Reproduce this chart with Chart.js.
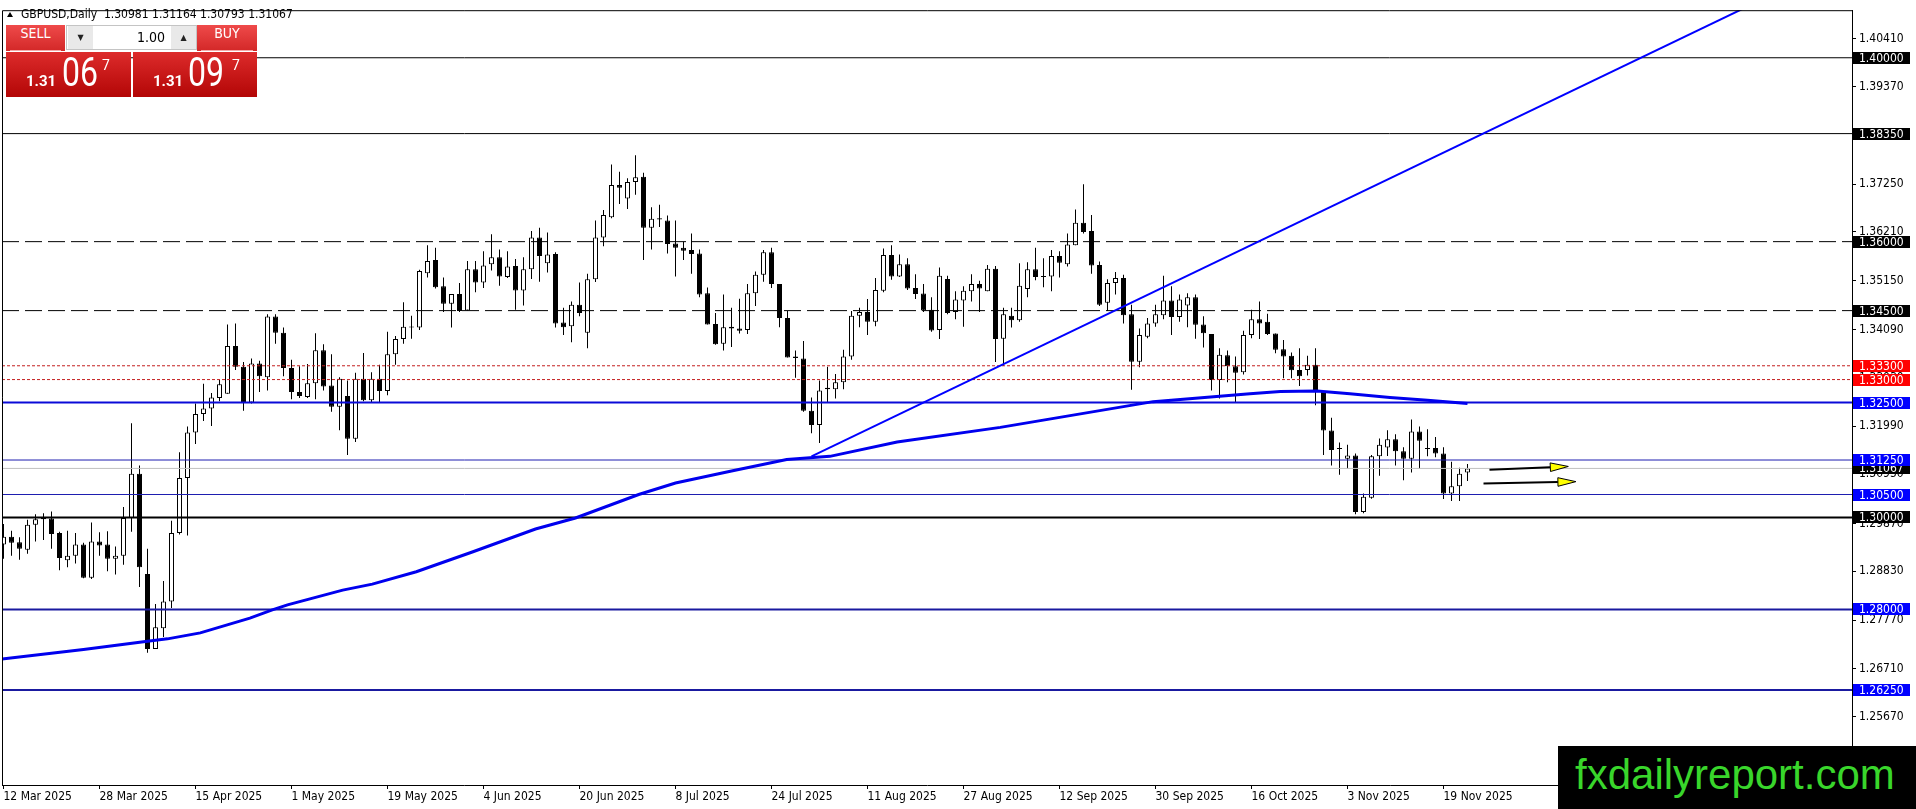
<!DOCTYPE html>
<html>
<head>
<meta charset="utf-8">
<title>GBPUSD Daily</title>
<script src="https://cdn.jsdelivr.net/npm/chart.js@4.4.1/dist/chart.umd.min.js"></script>
<style>
html, body { margin: 0; padding: 0; background: #fff; overflow: hidden; }
#wrap { position: relative; width: 1916px; height: 809px; }
#grafico { position: absolute; left: 0; top: 0; }
#head { position: absolute; left: 7px; top: 7px; line-height: 12px; font: 12px "DejaVu Sans Condensed", "DejaVu Sans", sans-serif; color: #000; white-space: pre; }
#head .tri { display: inline-block; width: 0; height: 0; border-left: 3.5px solid transparent; border-right: 3.5px solid transparent; border-bottom: 5px solid #000; margin-right: 8px; vertical-align: 1px; }
.btn { position: absolute; top: 25px; height: 26px; line-height: 26px; text-align: center; color: #fff; background: linear-gradient(#ef4a4a, #d32828); font: 14px "DejaVu Sans Condensed", "DejaVu Sans", sans-serif; }
.btn::after { content: ''; position: absolute; left: 4px; right: 4px; bottom: 0; height: 1px; background: #f4a8a8; }
#sell { left: 6px; width: 59px; }
#buy { left: 197px; width: 60px; }
#lot { position: absolute; left: 66px; top: 25px; width: 129px; height: 23px; border: 1px solid #c4c4c4; background: #fff; }
#lot .arr { position: absolute; top: 0; width: 25px; height: 23px; background: #e9e9e9; font: 8px "DejaVu Sans", sans-serif; line-height: 23px; text-align: center; color: #222; }
#lot .dn { left: 1px; }
#lot .up { left: 104px; }
#lot .val { position: absolute; left: 27px; width: 71px; text-align: right; font: 14px "DejaVu Sans Condensed", "DejaVu Sans", sans-serif; line-height: 23px; color: #000; }
.px { position: absolute; top: 52px; height: 45px; background: linear-gradient(#dd2b2b, #b30606); color: #fff; font-family: Roboto, sans-serif; }
#bid { left: 6px; width: 125px; }
#ask { left: 133px; width: 124px; }
.px span { position: absolute; line-height: 1; white-space: pre; }
.px .s { top: 22px; font-size: 15px; font-weight: bold; }
.px .b { top: 1px; font-size: 40px; transform: scaleX(0.8); transform-origin: left top; }
.px .p { top: 6px; font-size: 14px; }
#logo { position: absolute; left: 1558px; top: 746px; width: 358px; height: 63px; background: #000; }
#logo span { position: absolute; left: 17px; top: 5px; line-height: 1; font: 42px "Liberation Sans", Arial, sans-serif; color: #39d62b; white-space: pre; }
</style>
</head>
<body>
<div id="wrap">
  <canvas id="grafico" width="1916" height="809"></canvas>
  <div id="head"><span class="tri"></span><span id="headText"></span></div>
  <div class="btn" id="sell">SELL</div>
  <div id="lot"><span class="arr dn">&#9660;</span><span class="val">1.00</span><span class="arr up">&#9650;</span></div>
  <div class="btn" id="buy">BUY</div>
  <div class="px" id="bid"><span class="s" style="left:20px">1.31</span><span class="b" style="left:56px">06</span><span class="p" style="left:96px">7</span></div>
  <div class="px" id="ask"><span class="s" style="left:20px">1.31</span><span class="b" style="left:55px">09</span><span class="p" style="left:99px">7</span></div>
  <div id="logo"><span>fxdailyreport.com</span></div>
</div>
<script>
// daily candles, bar 0 = 12 Mar 2025
const open = [
  1.2941,1.2958,1.2946,1.2930,1.2984,1.2996,1.2998,1.2966,1.2907,1.2917,
  1.2941,1.2869,1.2948,1.2941,1.2910,1.2917,1.2999,1.3095,1.2877,1.2714,
  1.2759,1.2817,1.2966,1.3086,1.3185,1.3225,1.3237,1.3260,1.3269,1.3373,
  1.3328,1.3250,1.3335,1.3305,1.3437,1.3402,1.3325,1.3273,1.3262,1.3292,
  1.3364,1.3287,1.3241,1.3264,1.3171,1.3302,1.3255,1.3302,1.3275,1.3355,
  1.3388,1.3415,1.3413,1.3531,1.3560,1.3503,1.3465,1.3486,1.3450,1.3540,
  1.3511,1.3551,1.3566,1.3523,1.3547,1.3494,1.3540,1.3609,1.3553,1.3573,
  1.3424,1.3416,1.3463,1.3402,1.3518,1.3609,1.3653,1.3723,1.3694,1.3730,
  1.3741,1.3630,1.3651,1.3646,1.3596,1.3587,1.3582,1.3574,1.3488,1.3421,
  1.3378,1.3415,1.3411,1.3408,1.3488,1.3528,1.3577,1.3508,1.3434,1.3350,
  1.3346,1.3232,1.3201,1.3282,1.3279,1.3294,1.3350,1.3439,1.3447,1.3426,
  1.3493,1.3571,1.3524,1.3551,1.3499,1.3487,1.3452,1.3408,1.3519,1.3447,
  1.3472,1.3492,1.3508,1.3492,1.3541,1.3389,1.3439,1.3429,1.3497,1.3540,
  1.3524,1.3524,1.3569,1.3551,1.3592,1.3641,1.3623,1.3549,1.3467,1.3510,
  1.3521,1.3442,1.3339,1.3393,1.3422,1.3440,1.3472,1.3436,1.3461,1.3479,
  1.3420,1.3399,1.3299,1.3353,1.3329,1.3316,1.3397,1.3431,1.3426,1.3400,
  1.3366,1.3352,1.3321,1.3321,1.3332,1.3275,1.3189,1.3151,1.3128,1.3135,
  1.3012,1.3043,1.3133,1.3152,1.3170,1.3144,1.3128,1.3187,1.3151,1.3151,
  1.3139,1.3052,1.3068,1.30981
];
const high = [
  1.2986,1.2971,1.2957,1.2995,1.3007,1.3009,1.3013,1.2969,1.2971,1.2966,
  1.2945,1.2989,1.2968,1.2970,1.2937,1.3023,1.3205,1.3113,1.2932,1.2812,
  1.2862,1.2993,1.3142,1.3198,1.3248,1.3291,1.3271,1.3299,1.3420,1.3422,
  1.3338,1.3346,1.3341,1.3442,1.3442,1.3413,1.3343,1.3329,1.3334,1.3401,
  1.3377,1.3355,1.3305,1.3298,1.3315,1.3358,1.3316,1.3332,1.3404,1.3395,
  1.3468,1.3439,1.3539,1.3592,1.3587,1.3522,1.3486,1.3510,1.3558,1.3558,
  1.3579,1.3616,1.3583,1.3579,1.3562,1.3566,1.3623,1.3630,1.3620,1.3577,
  1.3456,1.3470,1.3511,1.3530,1.3646,1.3669,1.3768,1.3752,1.3738,1.3788,
  1.3750,1.3675,1.3680,1.3657,1.3646,1.3600,1.3618,1.3583,1.3500,1.3445,
  1.3485,1.3456,1.3476,1.3508,1.3535,1.3582,1.3587,1.3508,1.3449,1.3363,
  1.3384,1.3261,1.3298,1.3328,1.3312,1.3365,1.3449,1.3456,1.3475,1.3521,
  1.3585,1.3592,1.3572,1.3564,1.3529,1.3508,1.3479,1.3544,1.3526,1.3492,
  1.3503,1.3529,1.3515,1.3549,1.3547,1.3456,1.3456,1.3553,1.3555,1.3587,
  1.3564,1.3582,1.3579,1.3618,1.3670,1.3725,1.3658,1.3557,1.3518,1.3534,
  1.3528,1.3463,1.3411,1.3434,1.3463,1.3526,1.3503,1.3485,1.3488,1.3485,
  1.3438,1.3399,1.3368,1.3363,1.3350,1.3406,1.3452,1.3470,1.3443,1.3400,
  1.3386,1.3359,1.3368,1.3352,1.3368,1.3275,1.3217,1.3163,1.3158,1.3139,
  1.3052,1.3136,1.3172,1.3190,1.3181,1.3153,1.3213,1.3198,1.3192,1.3175,
  1.3153,1.3121,1.3108,1.31164
];
const low = [
  1.2910,1.2917,1.2908,1.2921,1.2948,1.2951,1.2932,1.2885,1.2892,1.2900,
  1.2868,1.2866,1.2917,1.2883,1.2876,1.2897,1.2969,1.2849,1.2706,1.2714,
  1.2740,1.2803,1.2963,1.2961,1.3160,1.3210,1.3199,1.3253,1.3269,1.3321,
  1.3232,1.3248,1.3273,1.3276,1.3378,1.3307,1.3257,1.3260,1.3260,1.3257,
  1.3276,1.3230,1.3190,1.3136,1.3164,1.3253,1.3251,1.3250,1.3266,1.3332,
  1.3378,1.3389,1.3408,1.3522,1.3498,1.3447,1.3413,1.3447,1.3450,1.3490,
  1.3499,1.3537,1.3504,1.3521,1.3452,1.3461,1.3519,1.3513,1.3533,1.3413,
  1.3397,1.3381,1.3438,1.3368,1.3512,1.3590,1.3651,1.3682,1.3671,1.3702,
  1.3560,1.3583,1.3632,1.3574,1.3524,1.3560,1.3530,1.3479,1.3420,1.3376,
  1.3363,1.3371,1.3400,1.3399,1.3460,1.3513,1.3499,1.3414,1.3348,1.3304,
  1.3230,1.3183,1.3162,1.3251,1.3259,1.3279,1.3343,1.3414,1.3397,1.3416,
  1.3490,1.3517,1.3523,1.3495,1.3475,1.3447,1.3404,1.3388,1.3442,1.3431,
  1.3415,1.3470,1.3447,1.3492,1.3338,1.3330,1.3413,1.3426,1.3479,1.3516,
  1.3501,1.3492,1.3522,1.3546,1.3592,1.3618,1.3530,1.3460,1.3449,1.3485,
  1.3422,1.3278,1.3327,1.3390,1.3415,1.3431,1.3397,1.3426,1.3414,1.3389,
  1.3370,1.3276,1.3259,1.3294,1.3251,1.3311,1.3390,1.3388,1.3397,1.3357,
  1.3303,1.3303,1.3286,1.3309,1.3244,1.3136,1.3113,1.3093,1.3106,1.3007,
  1.3009,1.3041,1.3091,1.3134,1.3113,1.3081,1.3098,1.3106,1.3133,1.3131,
  1.3040,1.3036,1.3036,1.30793
];
const close = [
  1.2958,1.2945,1.2932,1.2984,1.2996,1.2999,1.2964,1.2912,1.2917,1.2941,
  1.2869,1.2948,1.2939,1.2910,1.2917,1.2999,1.3095,1.2892,1.2714,1.2761,
  1.2817,1.2966,1.3086,1.3185,1.3225,1.3237,1.3261,1.3290,1.3373,1.3328,
  1.3251,1.3335,1.3307,1.3437,1.3402,1.3325,1.3273,1.3264,1.3292,1.3364,
  1.3285,1.3241,1.3302,1.3171,1.3302,1.3255,1.3302,1.3275,1.3355,1.3388,
  1.3415,1.3413,1.3536,1.3558,1.3501,1.3465,1.3486,1.3449,1.3540,1.3511,
  1.3548,1.3566,1.3524,1.3546,1.3494,1.3540,1.3609,1.3569,1.3572,1.3422,
  1.3414,1.3463,1.3445,1.3518,1.3609,1.3658,1.3723,1.3717,1.3730,1.3740,
  1.3630,1.3650,1.3648,1.3595,1.3587,1.3580,1.3573,1.3485,1.3420,1.3377,
  1.3414,1.3411,1.3406,1.3488,1.3528,1.3577,1.3508,1.3434,1.3348,1.3347,
  1.3232,1.3201,1.3276,1.3279,1.3294,1.3350,1.3439,1.3447,1.3426,1.3495,
  1.3571,1.3524,1.3551,1.3498,1.3486,1.3450,1.3407,1.3526,1.3445,1.3474,
  1.3493,1.3508,1.3498,1.3541,1.3388,1.3442,1.3429,1.3504,1.3540,1.3523,
  1.3523,1.3569,1.3554,1.3594,1.3641,1.3621,1.3548,1.3463,1.3510,1.3521,
  1.3440,1.3339,1.3397,1.3422,1.3442,1.3472,1.3436,1.3474,1.3479,1.3419,
  1.3401,1.3299,1.3354,1.3329,1.3315,1.3397,1.3431,1.3422,1.3399,1.3365,
  1.3350,1.3320,1.3307,1.3332,1.3275,1.3189,1.3147,1.3149,1.3135,1.3012,
  1.3045,1.3133,1.3158,1.3170,1.3144,1.3128,1.3187,1.3167,1.3149,1.3139,
  1.3052,1.3068,1.3095,1.31067
];

const dateLabels = ['12 Mar 2025','28 Mar 2025','15 Apr 2025','1 May 2025','19 May 2025','4 Jun 2025','20 Jun 2025','8 Jul 2025',
  '24 Jul 2025','11 Aug 2025','27 Aug 2025','12 Sep 2025','30 Sep 2025','16 Oct 2025','3 Nov 2025','19 Nov 2025'];
const dateLabelBars = [0,12,24,36,48,60,72,84,96,108,120,132,144,156,168,180];
const priceTicks = [1.40410,1.39370,1.38310,1.37250,1.36210,1.35150,1.34090,1.33030,1.31990,1.30950,1.29870,1.28830,1.27770,1.26710,1.25670];

// horizontal levels
const levels = [1.40000,1.38350,1.36000,1.34500,1.33300,1.33000,1.32500,1.31250,1.30500,1.30000,1.28000,1.26250];

// moving average (bar, price)
const maBar = [-0.19,10,18,20.5,24.6,30.8,33.6,35.5,42.4,46.1,51.6,58.6,66.5,71.5,79.4,84,91,97.9,103.3,111.7,124.6,143.7,155.8,159.6,164.2,168.3,173.3,178,183];
const maPrice = [1.2692,1.2713,1.2731,1.2736,1.2749,1.2781,1.2799,1.2810,1.2842,1.2855,1.2882,1.2925,1.2975,1.2999,1.3050,1.3075,1.3101,1.3126,1.3133,1.3164,1.3196,1.3252,1.3269,1.3274,1.3275,1.3269,1.3261,1.3255,1.3248];

// trend line
const trendBar = [101, 231.1];
const trendPrice = [1.3133, 1.4221];

// arrows
const arrowFromBar = [185.75, 185.0];
const arrowFromPrice = [1.3104, 1.3074];
const arrowToBar = [195.6, 196.55];
const arrowToPrice = [1.3111, 1.3078];

// styles for the levels
const levelLine = ['#000','#000','#000','#000','#c41e1e','#c41e1e','#0a0ad8','#1e1eb0','#1e1eb0','#000','#1a1aa0','#1a1aa0'];
const levelWidth = [1,1,1,1,1,1,2,1,1,2,2,2];
const levelDash = [[],[],[17,6],[17,6],[3,2],[3,2],[],[],[],[],[],[]];
const levelBox = ['#000','#000','#000','#000','#ff0000','#ff0000','#0000ff','#0000ff','#0000ff','#000','#0000ff','#0000ff'];

const X_MIN = -0.1875, X_MAX = 231.0625;
const Y_MIN = 1.241811, Y_MAX = 1.410345;
const AXIS_FONT = { family: '"DejaVu Sans Condensed", "DejaVu Sans", sans-serif', size: 12 };

document.addEventListener('DOMContentLoaded', function(){
    const n = close.length - 1;
    document.getElementById('headText').textContent =
        'GBPUSD,Daily  ' + [open[n], high[n], low[n], close[n]].map(v => v.toFixed(5)).join(' ');

    const idx = close.map((v, i) => i);
    const lastClose = close[n];

    const flat = (v) => [{x: X_MIN, y: v}, {x: X_MAX, y: v}];

    const levelSets = levels.map((v, k) => ({
        type: 'line',
        data: flat(v),
        borderColor: levelLine[k],
        borderWidth: levelWidth[k],
        borderDash: levelDash[k],
        pointRadius: 0,
        order: 3
    }));

    const frame = {
        id: 'frame',
        afterDraw(chart) {
            const {ctx, chartArea: a, scales: {x, y}} = chart;
            ctx.save();
            ctx.strokeStyle = '#000';
            ctx.lineWidth = 1;
            ctx.beginPath();
            ctx.moveTo(a.left + 0.5, a.bottom);
            ctx.lineTo(a.left + 0.5, a.top + 0.5);
            ctx.lineTo(a.right, a.top + 0.5);
            ctx.stroke();

            // arrows
            arrowFromBar.forEach((b, k) => {
                const x0 = x.getPixelForValue(b), y0 = y.getPixelForValue(arrowFromPrice[k]);
                const x1 = x.getPixelForValue(arrowToBar[k]), y1 = y.getPixelForValue(arrowToPrice[k]);
                const ang = Math.atan2(y1 - y0, x1 - x0);
                const hl = 18, hw = 4.3;
                const bx = x1 - hl * Math.cos(ang), by = y1 - hl * Math.sin(ang);
                ctx.strokeStyle = '#000';
                ctx.lineWidth = 2;
                ctx.beginPath();
                ctx.moveTo(x0, y0);
                ctx.lineTo(bx, by);
                ctx.stroke();
                ctx.beginPath();
                ctx.moveTo(x1, y1);
                ctx.lineTo(bx - hw * Math.sin(ang), by + hw * Math.cos(ang));
                ctx.lineTo(bx + hw * Math.sin(ang), by - hw * Math.cos(ang));
                ctx.closePath();
                ctx.fillStyle = '#ffff00';
                ctx.fill();
                ctx.lineWidth = 1;
                ctx.stroke();
            });

            // price boxes on the right axis
            ctx.font = '12px "DejaVu Sans Condensed", "DejaVu Sans", sans-serif';
            ctx.textBaseline = 'middle';
            ctx.textAlign = 'left';
            const box = (v, color) => {
                const py = Math.round(y.getPixelForValue(v));
                ctx.fillStyle = color;
                ctx.fillRect(a.right + 1, py - 6, 57, 12);
                ctx.fillStyle = '#fff';
                ctx.fillText(v.toFixed(5), a.right + 7, py + 0.5);
            };
            box(lastClose, '#000');
            levels.forEach((v, k) => box(v, levelBox[k]));
            ctx.restore();
        }
    };

    const ctx = document.getElementById('grafico').getContext('2d');
    new Chart(ctx, {
        type: 'bar',
        data: {
            datasets: [
                {
                    type: 'line',
                    label: 'Trend',
                    data: trendBar.map((b, i) => ({x: b, y: trendPrice[i]})),
                    borderColor: '#0000ff',
                    borderWidth: 2,
                    pointRadius: 0,
                    order: 1
                },
                {
                    type: 'line',
                    label: 'MA',
                    data: maBar.map((b, i) => ({x: b, y: maPrice[i]})),
                    borderColor: '#0000ee',
                    borderWidth: 3,
                    pointRadius: 0,
                    order: 2
                },
                ...levelSets,
                {
                    type: 'line',
                    label: 'Bid',
                    data: flat(lastClose),
                    borderColor: '#c0c0c0',
                    borderWidth: 1,
                    pointRadius: 0,
                    order: 4
                },
                {
                    label: 'Body',
                    data: idx.map(i => ({x: i, y: [open[i], close[i]]})),
                    backgroundColor: idx.map(i => close[i] >= open[i] ? '#ffffff' : '#000000'),
                    borderColor: '#000',
                    borderWidth: 1,
                    borderSkipped: false,
                    barThickness: 5,
                    minBarLength: 1,
                    inflateAmount: 0,
                    grouped: false,
                    order: 8
                },
                {
                    label: 'Wick',
                    data: idx.map(i => ({x: i, y: [low[i], high[i]]})),
                    backgroundColor: '#000',
                    borderWidth: 0,
                    barThickness: 1,
                    inflateAmount: 0,
                    grouped: false,
                    order: 9
                }
            ]
        },
        options: {
            responsive: false,
            devicePixelRatio: 1,
            animation: false,
            events: [],
            layout: { padding: { left: 2, top: 3, right: 0, bottom: 0 } },
            plugins: { legend: { display: false }, tooltip: { enabled: false } },
            scales: {
                x: {
                    type: 'linear',
                    min: X_MIN,
                    max: X_MAX,
                    offset: false,
                    afterBuildTicks: s => { s.ticks = dateLabelBars.map(v => ({value: v})); },
                    afterFit: s => { s.height = 24; },
                    ticks: {
                        autoSkip: false,
                        maxRotation: 0,
                        minRotation: 0,
                        align: 'start',
                        padding: 1,
                        color: '#000',
                        font: AXIS_FONT,
                        callback: (v, i) => dateLabels[i]
                    },
                    grid: { drawOnChartArea: false, offset: false, tickLength: 4, color: '#000' },
                    border: { color: '#000', width: 1 }
                },
                y: {
                    position: 'right',
                    min: Y_MIN,
                    max: Y_MAX,
                    afterBuildTicks: s => { s.ticks = priceTicks.map(v => ({value: v})); },
                    afterFit: s => { s.width = 64; },
                    ticks: {
                        autoSkip: false,
                        padding: 3,
                        color: '#000',
                        font: AXIS_FONT,
                        callback: v => v.toFixed(5)
                    },
                    grid: { drawOnChartArea: false, tickLength: 4, color: '#000' },
                    border: { color: '#000', width: 1 }
                }
            }
        },
        plugins: [frame]
    });
});
</script>
</body>
</html>
